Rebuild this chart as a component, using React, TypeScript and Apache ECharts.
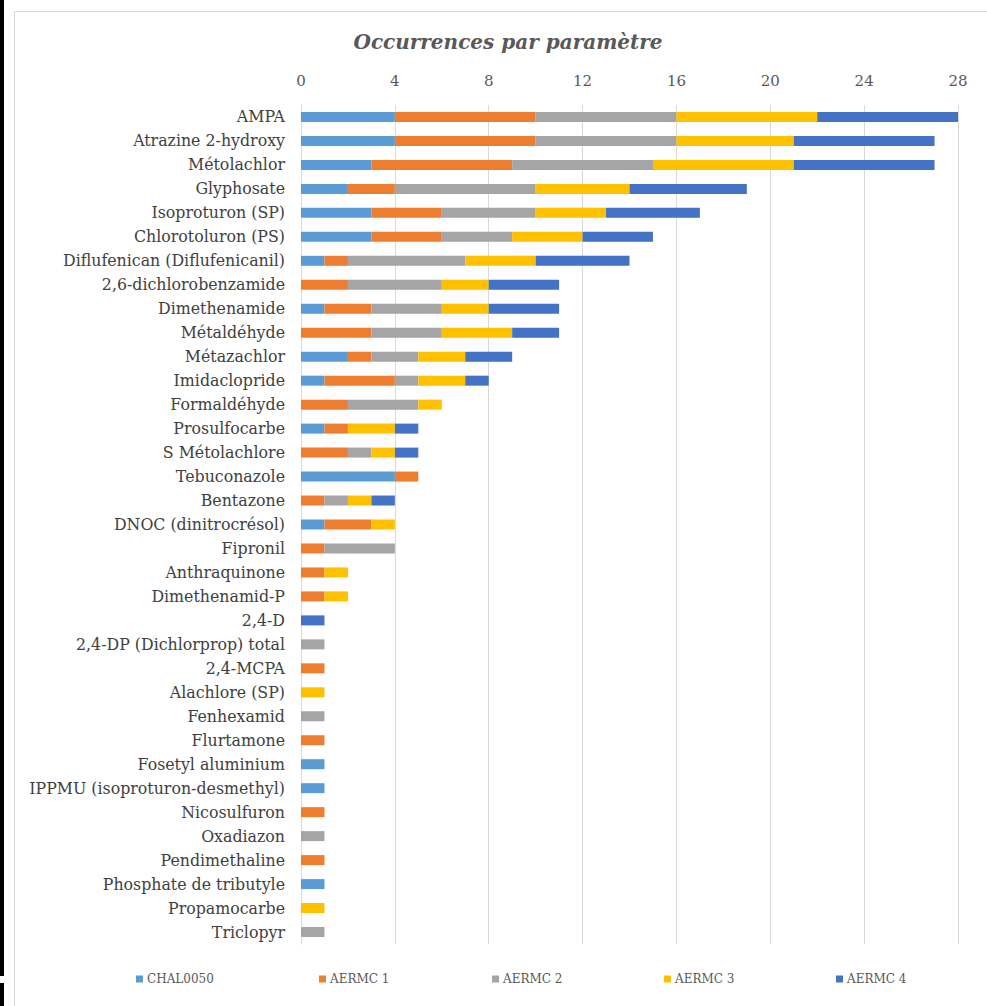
import React, { useEffect, useRef } from "react";
import * as echarts from "echarts";

const categories = [
  "AMPA", "Atrazine 2-hydroxy", "Métolachlor", "Glyphosate", "Isoproturon (SP)",
  "Chlorotoluron (PS)", "Diflufenican (Diflufenicanil)", "2,6-dichlorobenzamide",
  "Dimethenamide", "Métaldéhyde", "Métazachlor", "Imidaclopride", "Formaldéhyde",
  "Prosulfocarbe", "S Métolachlore", "Tebuconazole", "Bentazone", "DNOC (dinitrocrésol)",
  "Fipronil", "Anthraquinone", "Dimethenamid-P", "2,4-D", "2,4-DP (Dichlorprop) total",
  "2,4-MCPA", "Alachlore (SP)", "Fenhexamid", "Flurtamone", "Fosetyl aluminium",
  "IPPMU (isoproturon-desmethyl)", "Nicosulfuron", "Oxadiazon", "Pendimethaline",
  "Phosphate de tributyle", "Propamocarbe", "Triclopyr",
];

const seriesNames = ["CHAL0050", "AERMC 1", "AERMC 2", "AERMC 3", "AERMC 4"];

const chal0050 = [4, 4, 3, 2, 3, 3, 1, 0, 1, 0, 2, 1, 0, 1, 0, 4, 0, 1, 0, 0, 0, 0, 0, 0, 0, 0, 0, 1, 1, 0, 0, 0, 1, 0, 0];
const aermc1 = [6, 6, 6, 2, 3, 3, 1, 2, 2, 3, 1, 3, 2, 1, 2, 1, 1, 2, 1, 1, 1, 0, 0, 1, 0, 0, 1, 0, 0, 1, 0, 1, 0, 0, 0];
const aermc2 = [6, 6, 6, 6, 4, 3, 5, 4, 3, 3, 2, 1, 3, 0, 1, 0, 1, 0, 3, 0, 0, 0, 1, 0, 0, 1, 0, 0, 0, 0, 1, 0, 0, 0, 1];
const aermc3 = [6, 5, 6, 4, 3, 3, 3, 2, 2, 3, 2, 2, 1, 2, 1, 0, 1, 1, 0, 1, 1, 0, 0, 0, 1, 0, 0, 0, 0, 0, 0, 0, 0, 1, 0];
const aermc4 = [6, 6, 6, 5, 4, 3, 4, 3, 3, 2, 2, 1, 0, 1, 1, 0, 1, 0, 0, 0, 0, 1, 0, 0, 0, 0, 0, 0, 0, 0, 0, 0, 0, 0, 0];

const xTicks = [0, 4, 8, 12, 16, 20, 24, 28];

const colors = ["#5B9BD5", "#ED7D31", "#A5A5A5", "#FFC000", "#4472C4"];
const legendLefts = [131, 314, 487, 659, 831];

export default function App() {
  const ref = useRef<HTMLDivElement>(null);
  useEffect(() => {
    if (!ref.current) return;
    const chart = echarts.init(ref.current, undefined, { renderer: "svg" });
    const values = [chal0050, aermc1, aermc2, aermc3, aermc4];
    const font = "'DejaVu Serif', 'Liberation Serif', serif";
    chart.setOption({
      animation: false,
      backgroundColor: "#ffffff",
      title: {
        text: "Occurrences par paramètre",
        left: 503,
        textAlign: "center",
        top: 27,
        textStyle: {
          fontFamily: font,
          fontStyle: "italic",
          fontWeight: "bold",
          fontSize: 20,
          color: "#595959",
        },
      },
      legend: seriesNames.map((n, i) => ({
        data: [n],
        left: legendLefts[i],
        top: 968,
        itemWidth: 7,
        itemHeight: 7,
        itemGap: 4,
        icon: "rect",
        textStyle: { fontFamily: font, fontSize: 12, color: "#595959", padding: [0, 0, 0, -1] },
      })),
      grid: { left: 301, right: 29, top: 105, bottom: 62, containLabel: false },
      xAxis: {
        type: "value",
        position: "top",
        min: xTicks[0],
        max: xTicks[xTicks.length - 1],
        interval: 4,
        axisLine: { show: false },
        axisTick: { show: false },
        axisLabel: { fontFamily: font, fontSize: 15, color: "#595959", margin: 17 },
        splitLine: { show: true, lineStyle: { color: "#D9D9D9", width: 1 } },
      },
      yAxis: {
        type: "category",
        inverse: true,
        data: categories,
        axisLine: { show: true, lineStyle: { color: "#D9D9D9", width: 1 } },
        axisTick: { show: false },
        axisLabel: { fontFamily: font, fontSize: 15.8, color: "#404040", margin: 16 },
      },
      series: seriesNames.map((n, i) => ({
        name: n,
        type: "bar",
        stack: "total",
        barWidth: 10,
        itemStyle: { color: colors[i] },
        data: values[i],
      })),
      graphic: [
        {
          type: "rect",
          shape: { x: 14.5, y: 11.5, width: 1000, height: 1100 },
          style: { fill: "none", stroke: "#D9D9D9", lineWidth: 1 },
          silent: true,
        },
        {
          type: "rect",
          shape: { x: 0, y: 0, width: 4, height: 976 },
          style: { fill: "#000000" },
          silent: true,
        },
        {
          type: "rect",
          shape: { x: 0, y: 983, width: 4, height: 23 },
          style: { fill: "#000000" },
          silent: true,
        },
      ],
    });
    return () => chart.dispose();
  }, []);
  return (
    <div
      ref={ref}
      style={{ position: "fixed", left: 0, top: 0, width: 987, height: 1006 }}
    />
  );
}
